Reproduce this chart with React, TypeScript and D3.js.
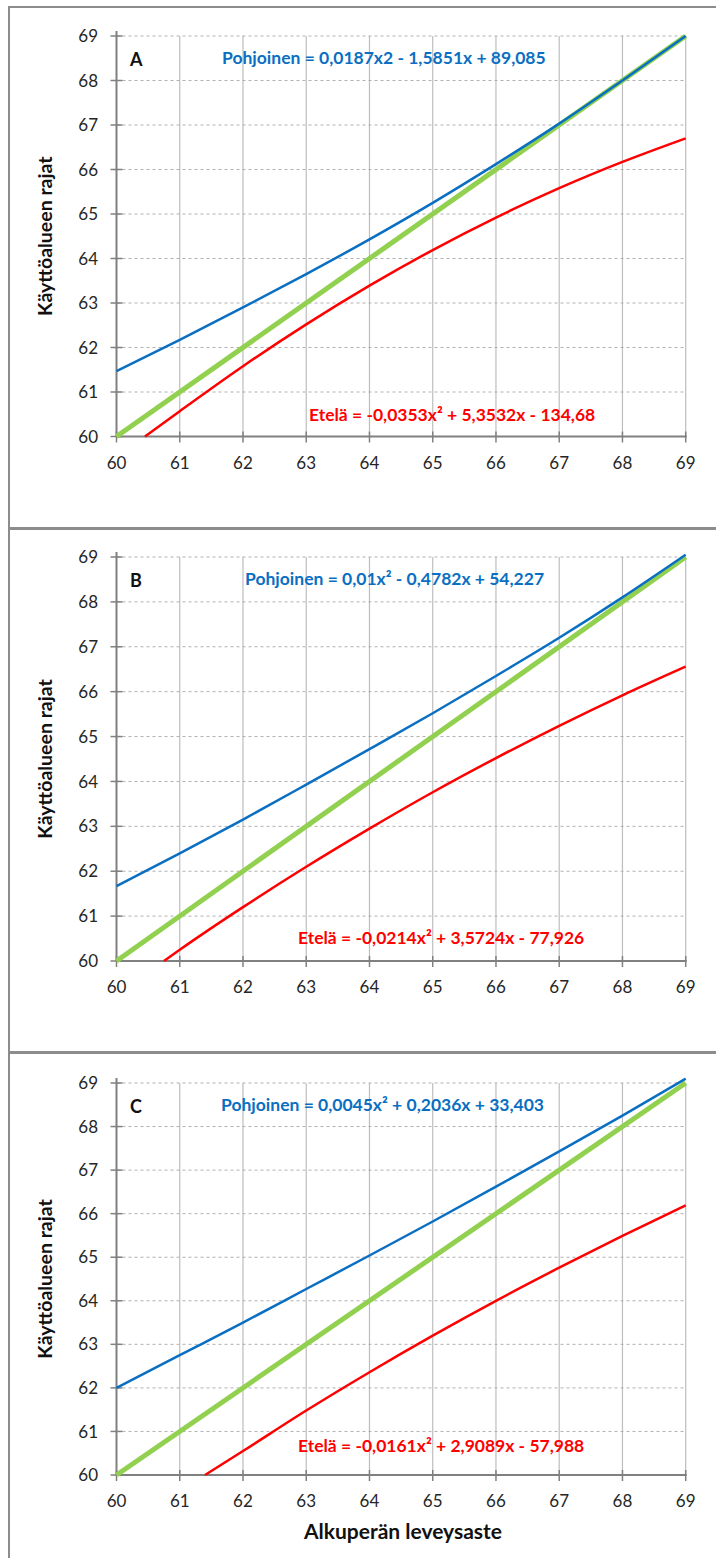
import React from "react";
import * as d3 from "d3";

const xTicks = [60, 61, 62, 63, 64, 65, 66, 67, 68, 69];
const yTicks = [60, 61, 62, 63, 64, 65, 66, 67, 68, 69];

const panelLabels = ["A", "B", "C"];
const northEq = [
  "Pohjoinen = 0,0187x2 - 1,5851x + 89,085",
  "Pohjoinen = 0,01x² - 0,4782x + 54,227",
  "Pohjoinen = 0,0045x² + 0,2036x + 33,403",
];
const southEq = [
  "Etelä = -0,0353x² + 5,3532x - 134,68",
  "Etelä = -0,0214x² + 3,5724x - 77,926",
  "Etelä = -0,0161x² + 2,9089x - 57,988",
];

const greenX = [60, 69];
const greenY = [60, 69];

const northX = [60, 61, 62, 63, 64, 65, 66, 67, 68, 69];
const northA = [61.47, 62.17, 62.9, 63.65, 64.43, 65.25, 66.12, 67.03, 68.0, 69.0];
const northB = [61.67, 62.4, 63.15, 63.93, 64.72, 65.52, 66.35, 67.2, 68.1, 69.05];
const northC = [62.0, 62.75, 63.5, 64.27, 65.04, 65.82, 66.62, 67.43, 68.25, 69.1];

const southAX = [60.45, 61, 62, 63, 64, 65, 66, 67, 68, 69];
const southA = [60.0, 60.57, 61.58, 62.52, 63.39, 64.19, 64.92, 65.58, 66.17, 66.7];
const southBX = [60.75, 61, 62, 63, 64, 65, 66, 67, 68, 69];
const southB = [60.0, 60.25, 61.2, 62.1, 62.95, 63.76, 64.52, 65.24, 65.92, 66.56];
const southCX = [61.4, 62, 63, 64, 65, 66, 67, 68, 69];
const southC = [60.0, 60.55, 61.48, 62.36, 63.2, 64.0, 64.76, 65.49, 66.19];

const xTitle = "Alkuperän leveysaste";
const yTitle = "Käyttöalueen rajat";

const FONT = "Lato, 'Open Sans', sans-serif";
const BLUE = "#0a6fc2";
const RED = "#ff0000";
const GREEN = "#92d050";

const panels = [
  { top: 7, bottom: 528, yTop: 36, yBot: 436.5, north: northA, sX: southAX, s: southA, nLab: { x: 222, y: 64 }, sLab: { x: 309, y: 421 } },
  { top: 529, bottom: 1052, yTop: 557, yBot: 961, north: northB, sX: southBX, s: southB, nLab: { x: 245, y: 585 }, sLab: { x: 298, y: 944 } },
  { top: 1053, bottom: 1600, yTop: 1083, yBot: 1475, north: northC, sX: southCX, s: southC, nLab: { x: 221, y: 1111 }, sLab: { x: 298, y: 1452 } },
];

function Panel({ i }: { i: number }) {
  const p = panels[i];
  const x = d3.scaleLinear().domain([60, 69]).range([116.5, 685.7]);
  const y = d3.scaleLinear().domain([60, 69]).range([p.yBot, p.yTop]);
  const line = d3
    .line<[number, number]>()
    .x((d) => x(d[0]))
    .y((d) => y(d[1]))
    .curve(d3.curveMonotoneX);
  const nPts = northX.map((v, k) => [v, p.north[k]] as [number, number]);
  const sPts = p.sX.map((v, k) => [v, p.s[k]] as [number, number]);
  const gPts = greenX.map((v, k) => [v, greenY[k]] as [number, number]);
  const x0 = x(60);
  const x1 = x(69);
  return (
    <g>
      <rect x={9} y={p.top} width={720} height={p.bottom - p.top} fill="#fff" stroke="#8c8c8c" strokeWidth={2} />
      {xTicks.slice(1).map((t) => (
        <line key={"vg" + t} x1={x(t)} x2={x(t)} y1={y(69)} y2={y(60)} stroke="#bdbdbd" strokeWidth={1.2} />
      ))}
      {yTicks.slice(1).map((t) => (
        <line key={"hg" + t} x1={x0} x2={x1} y1={y(t)} y2={y(t)} stroke="#b0b0b0" strokeWidth={1} strokeDasharray="3,3" />
      ))}
      <line x1={x0} x2={x0} y1={y(69) - 5} y2={y(60)} stroke="#808080" strokeWidth={2} />
      <line x1={x0} x2={x1 + 1} y1={y(60)} y2={y(60)} stroke="#808080" strokeWidth={2} />
      {yTicks.map((t) => (
        <line key={"yt" + t} x1={x0 - 6} x2={x0 + 6} y1={y(t)} y2={y(t)} stroke="#808080" strokeWidth={1.5} />
      ))}
      {xTicks.map((t) => (
        <line key={"xt" + t} x1={x(t)} x2={x(t)} y1={y(60) - 5} y2={y(60) + 6} stroke="#808080" strokeWidth={1.5} />
      ))}
      {yTicks.map((t) => (
        <text key={"yl" + t} x={98} y={y(t)} dy="0.36em" textAnchor="end" fontFamily={FONT} fontSize={17} fill="#262626">
          {t}
        </text>
      ))}
      {xTicks.map((t) => (
        <text key={"xl" + t} x={x(t)} y={y(60) + 32} textAnchor="middle" fontFamily={FONT} fontSize={17} fill="#262626">
          {t}
        </text>
      ))}
      <text
        transform={`translate(52,${(p.yTop + p.yBot) / 2}) rotate(-90)`}
        textAnchor="middle"
        fontFamily={FONT}
        fontWeight="bold"
        fontSize={19.5}
        fill="#111"
      >
        {yTitle}
      </text>
      <path d={line(gPts) || ""} fill="none" stroke={GREEN} strokeWidth={5} />
      <path d={line(nPts) || ""} fill="none" stroke={BLUE} strokeWidth={2.5} />
      <path d={line(sPts) || ""} fill="none" stroke={RED} strokeWidth={2.5} />
      <text x={130} y={p.yTop + 30} fontFamily={FONT} fontWeight="bold" fontSize={18} fill="#111">
        {panelLabels[i]}
      </text>
      <text x={p.nLab.x} y={p.nLab.y} fontFamily={FONT} fontWeight="bold" fontSize={17.5} fill={BLUE}>
        {northEq[i]}
      </text>
      <text x={p.sLab.x} y={p.sLab.y} fontFamily={FONT} fontWeight="bold" fontSize={17.5} fill={RED}>
        {southEq[i]}
      </text>
    </g>
  );
}

export default function App() {
  return (
    <svg width={716} height={1558} style={{ position: "absolute", left: 0, top: 0 }}>
      <rect x={0} y={0} width={716} height={1558} fill="#fff" />
      {panels.map((_, i) => (
        <Panel key={i} i={i} />
      ))}
      <text x={403} y={1539} textAnchor="middle" fontFamily={FONT} fontWeight="bold" fontSize={21} fill="#111">
        {xTitle}
      </text>
    </svg>
  );
}
